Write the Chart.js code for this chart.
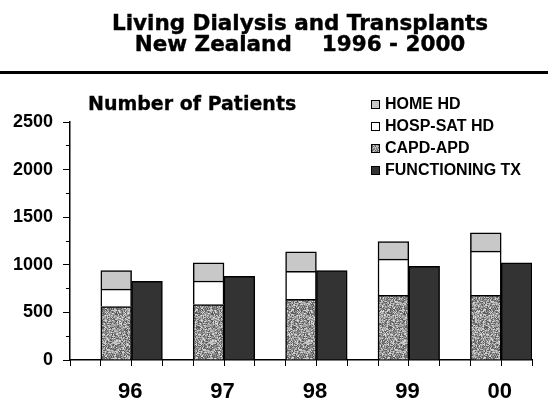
<!DOCTYPE html>
<html>
<head>
<meta charset="utf-8">
<script src="https://cdn.jsdelivr.net/npm/chart.js@4.4.0/dist/chart.umd.min.js"></script>
<style>
  body { margin: 0; background: #fff; }
  #wrap { position: relative; width: 548px; height: 406px; overflow: hidden; }
  #grafica { position: absolute; left: 0; top: 0; }
  #titulo { position: absolute; left: 50px; top: 12px; width: 500px; text-align: center;
            font: bold 21.5px "DejaVu Sans"; line-height: 21px; white-space: pre; color: #000;
            -webkit-text-stroke: 0.4px #000; }
  #regla { position: absolute; left: 0; top: 71px; width: 548px; height: 2.5px; background: #000; }
  #etiqueta { position: absolute; left: 88px; top: 94px; font: bold 19px "DejaVu Sans"; line-height: 19px; color: #000;
              -webkit-text-stroke: 0.3px #000; }
  #leyenda { position: absolute; left: 371px; top: 93px; font: bold 16px "Liberation Sans", Arial, sans-serif; color: #000; }
  #leyenda div { display: flex; align-items: center; height: 22px; white-space: nowrap; }
  #leyenda span.cuadro { display: inline-block; width: 7px; height: 7px; border: 1px solid #000; margin-right: 5px; }
</style>
</head>
<body>
<div id="wrap">
  <canvas id="grafica" width="548" height="406"></canvas>
  <div id="titulo">Living Dialysis and Transplants
New Zealand    1996 - 2000</div>
  <div id="regla"></div>
  <div id="etiqueta">Number of Patients</div>
  <div id="leyenda"></div>
</div>
<script>
const years = ['96', '97', '98', '99', '00'];
const capdApd = [561, 583, 637, 678, 680];
const hospSatHd = [184, 247, 295, 381, 464];
const homeHd = [195, 190, 205, 184, 191];
const functioningTx = [826, 879, 940, 985, 1020];
const yMax = 2500;
const yStep = 500;

const fuente = '"Liberation Sans", Arial, sans-serif';

// textura gris moteada para CAPD-APD (determinista)
function granito() {
    const c = document.createElement('canvas');
    c.width = c.height = 48;
    const g = c.getContext('2d');
    const img = g.createImageData(48, 48);
    let s = 12345;
    for (let i = 0; i < 48 * 48; i++) {
        s = (Math.imul(s, 1103515245) + 12345) >>> 0;
        const v = 80 + ((s >>> 16) % 145);
        img.data[i * 4] = img.data[i * 4 + 1] = img.data[i * 4 + 2] = v;
        img.data[i * 4 + 3] = 255;
    }
    g.putImageData(img, 0, 0);
    return c;
}

const textura = granito();
const graphic = document.getElementById('grafica');
const ctx = graphic.getContext('2d');
const patron = ctx.createPattern(textura, 'repeat');

const series = [
    { label: 'CAPD-APD', data: capdApd, backgroundColor: patron, stack: 'dialisis', css: 'url(' + textura.toDataURL() + ')' },
    { label: 'HOSP-SAT HD', data: hospSatHd, backgroundColor: '#ffffff', stack: 'dialisis', css: '#ffffff' },
    { label: 'HOME HD', data: homeHd, backgroundColor: '#c8c8c8', stack: 'dialisis', css: '#c8c8c8' },
    { label: 'FUNCTIONING TX', data: functioningTx, backgroundColor: '#333333', stack: 'tx', css: '#333333' }
];

// leyenda en html, mismo orden que el original
const leyenda = document.getElementById('leyenda');
[2, 1, 0, 3].forEach((i) => {
    const fila = document.createElement('div');
    const cuadro = document.createElement('span');
    cuadro.className = 'cuadro';
    cuadro.style.background = series[i].css;
    fila.appendChild(cuadro);
    fila.appendChild(document.createTextNode(series[i].label));
    leyenda.appendChild(fila);
});

// primer grupo vacio: deja el hueco a la izquierda de cada año
const datasets = [{ label: '', data: years.map(() => null), stack: 'hueco' }].concat(
    series.map((s) => ({ label: s.label, data: s.data, backgroundColor: s.backgroundColor, stack: s.stack }))
);

// un hueco por cada barra: 3 por año, para las marcas del eje x
const slots = [];
years.forEach(() => slots.push('', '', ''));

new Chart(graphic, {
    type: 'bar',
    data: { labels: years, datasets: datasets },
    options: {
        responsive: false,
        animation: false,
        layout: { padding: { left: 0, top: 122, right: 16, bottom: 0 } },
        datasets: { bar: { barPercentage: 1, categoryPercentage: 1, borderColor: '#000', borderWidth: 1.5 } },
        plugins: { legend: { display: false }, tooltip: { enabled: false } },
        scales: {
            x: {
                stacked: true,
                grid: { display: false, drawTicks: false },
                border: { display: true, color: '#000', width: 1.5 },
                ticks: { color: '#000', padding: 19, labelOffset: 14, font: { family: fuente, size: 22, weight: 'bold' } },
                afterFit: (s) => { s.height = 46; }
            },
            xMenor: {
                type: 'category', labels: slots, position: 'bottom', weight: -1, offset: true,
                ticks: { display: false, autoSkip: false },
                grid: { offset: true, drawOnChartArea: false, tickLength: 6, color: '#000' },
                border: { display: false },
                afterFit: (s) => { s.height = 0; }
            },
            y: {
                stacked: true, min: 0, max: yMax,
                ticks: { stepSize: yStep, color: '#000', padding: 10, font: { family: fuente, size: 18, weight: 'bold' },
                         callback: (v) => String(v) },
                grid: { drawOnChartArea: false, tickLength: 7, color: '#000' },
                border: { color: '#000', width: 1.5 },
                afterFit: (s) => { s.width = 70; }
            },
            yMenor: {
                position: 'left', weight: -1, min: 0, max: yMax,
                ticks: { stepSize: yStep / 2, display: false, autoSkip: false, maxTicksLimit: 40 },
                grid: { drawOnChartArea: false, tickLength: 4, color: '#000' },
                border: { display: false },
                afterFit: (s) => { s.width = 0; }
            }
        }
    }
});
</script>
</body>
</html>
